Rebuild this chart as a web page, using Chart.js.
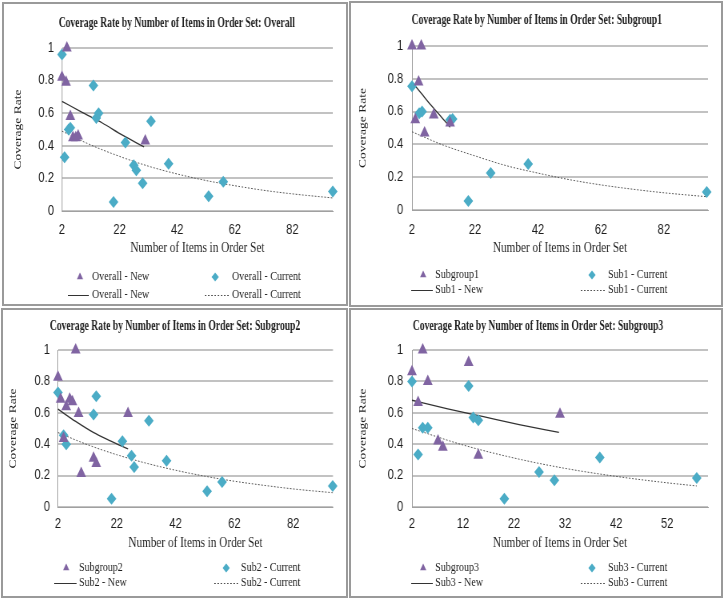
<!DOCTYPE html>
<html>
<head>
<meta charset="utf-8">
<script src="https://cdn.jsdelivr.net/npm/chart.js@4.4.0/dist/chart.umd.min.js"></script>
<style>
  body { margin: 0; background: #fff; }
  #page { position: relative; width: 725px; height: 599px; overflow: hidden; }
  .frame { position: absolute; box-sizing: border-box; border: 2px solid #9a9a9a; }
  canvas { position: absolute; transform-origin: 0 0; transform: scaleX(0.8); }
</style>
</head>
<body>
<div id="page">
  <div class="frame" style="left:2px;top:2px;width:346px;height:304px"></div>
  <div class="frame" style="left:349px;top:1px;width:374px;height:306px"></div>
  <div class="frame" style="left:1px;top:308px;width:347px;height:290px"></div>
  <div class="frame" style="left:349px;top:308px;width:374px;height:290px"></div>
  <canvas id="c1" width="428" height="300" style="left:4px;top:4px"></canvas>
  <canvas id="c2" width="461" height="302" style="left:352px;top:3px"></canvas>
  <canvas id="c3" width="429" height="286" style="left:3px;top:310px"></canvas>
  <canvas id="c4" width="461" height="286" style="left:352px;top:310px"></canvas>
</div>
<script>
// tick labels
const yTicks = [0, 0.2, 0.4, 0.6, 0.8, 1];
const xTicksWide = [2, 22, 42, 62, 82];
const xTicksSub3 = [2, 12, 22, 32, 42, 52];

// Overall
const overallNewX = [2, 3.4, 3.7, 4.9, 5.8, 6.8, 7.6, 30.9];
const overallNewY = [0.82, 0.79, 1.0, 0.58, 0.45, 0.45, 0.46, 0.43];
const overallCurX = [2, 2.9, 4.3, 4.9, 12.9, 13.9, 14.7, 19.9, 24, 26.9, 27.8, 30, 32.9, 39, 52.9, 58, 96];
const overallCurY = [0.96, 0.33, 0.50, 0.51, 0.77, 0.57, 0.60, 0.055, 0.42, 0.28, 0.25, 0.17, 0.55, 0.29, 0.09, 0.18, 0.12];
const overallNewFitX = [2, 9, 16, 23, 30.5];
const overallNewFitY = [0.673, 0.605, 0.54, 0.465, 0.393];
const overallCurFitX = [2, 12, 22, 32, 42, 52, 62, 72, 82, 96];
const overallCurFitY = [0.49, 0.405, 0.335, 0.275, 0.227, 0.187, 0.155, 0.127, 0.105, 0.08];

// Subgroup1
const sub1NewX = [2, 4.95, 4.1, 3.05, 8.9, 6, 14.1];
const sub1NewY = [1.0, 1.0, 0.78, 0.55, 0.58, 0.47, 0.53];
const sub1CurX = [2, 4.3, 5.2, 14.1, 14.9, 19.9, 27, 38.9, 95.6];
const sub1CurY = [0.755, 0.59, 0.60, 0.55, 0.555, 0.055, 0.225, 0.28, 0.11];
const sub1NewFitX = [2, 5, 8, 11, 14.1];
const sub1NewFitY = [0.78, 0.71, 0.64, 0.575, 0.505];
const sub1CurFitX = [2, 12, 22, 32, 42, 52, 62, 72, 82, 95.6];
const sub1CurFitY = [0.477, 0.395, 0.33, 0.27, 0.225, 0.185, 0.153, 0.127, 0.105, 0.081];

// Subgroup2
const sub2NewX = [2, 2.9, 8, 4.8, 6, 6.9, 9, 3.9, 9.9, 14.1, 15, 25.8];
const sub2NewY = [0.826, 0.687, 1.0, 0.638, 0.687, 0.67, 0.596, 0.436, 0.213, 0.31, 0.277, 0.596];
const sub2CurX = [2, 3.9, 4.8, 14.1, 15, 20.2, 23.9, 27, 27.9, 32.9, 38.9, 52.7, 57.8, 95.4];
const sub2CurY = [0.73, 0.457, 0.40, 0.589, 0.706, 0.053, 0.419, 0.326, 0.255, 0.549, 0.294, 0.10, 0.16, 0.134];
const sub2NewFitX = [2, 8, 14, 20, 25.8];
const sub2NewFitY = [0.623, 0.545, 0.475, 0.42, 0.37];
const sub2CurFitX = [2, 12, 22, 32, 42, 52, 62, 72, 82, 95.4];
const sub2CurFitY = [0.474, 0.397, 0.333, 0.279, 0.234, 0.196, 0.164, 0.138, 0.115, 0.091];

// Subgroup3
const sub3NewX = [2, 4.1, 5.1, 3.2, 13.1, 7.1, 8.05, 15, 31];
const sub3NewY = [0.862, 1.0, 0.80, 0.666, 0.92, 0.42, 0.38, 0.33, 0.59];
const sub3CurX = [2, 3.2, 4.1, 5.1, 13.1, 14.0, 15, 20.1, 26.9, 29.9, 38.8, 57.8];
const sub3CurY = [0.80, 0.334, 0.504, 0.504, 0.77, 0.57, 0.553, 0.053, 0.223, 0.17, 0.315, 0.185];
const sub3NewFitX = [2, 9, 16, 23, 30.8];
const sub3NewFitY = [0.68, 0.625, 0.575, 0.525, 0.475];
const sub3CurFitX = [2, 12, 22, 32, 42, 52, 57.8];
const sub3CurFitY = [0.5, 0.395, 0.312, 0.246, 0.195, 0.154, 0.134];

const PURPLE = '#8064A2';
const TEAL = '#4BACC6';
const GRID = '#c2c2c2';
const AXIS = '#a0a0a0';
const TEXT = '#1e1e1e';
const SERIF = '"Liberation Serif", "Times New Roman", serif';
const SANS = '"Liberation Sans Narrow", "Liberation Sans", Arial, sans-serif';

function pts(xs, ys) {
  return xs.map((x, i) => ({ x: x, y: ys[i] }));
}

function drawMarker(ctx, style, x, y, r, color) {
  ctx.fillStyle = color;
  ctx.beginPath();
  if (style === 'triangle') {
    ctx.moveTo(x, y - r);
    ctx.lineTo(x + r * 0.866, y + r / 2);
    ctx.lineTo(x - r * 0.866, y + r / 2);
  } else {
    ctx.moveTo(x, y - r);
    ctx.lineTo(x + r, y);
    ctx.lineTo(x, y + r);
    ctx.lineTo(x - r, y);
  }
  ctx.closePath();
  ctx.fill();
}

// title and the two-column legend under each chart
const panelText = {
  id: 'panelText',
  afterDraw(chart, args, opts) {
    const ctx = chart.ctx;
    const ds = chart.data.datasets;
    ctx.save();
    ctx.fillStyle = TEXT;
    ctx.textBaseline = 'middle';
    ctx.textAlign = 'center';
    // the title is a bit narrower than the rest of the text
    ctx.save();
    ctx.translate(opts.titleX, opts.titleY);
    ctx.scale(0.86, 1);
    ctx.font = 'bold 14px ' + SERIF;
    ctx.fillText(opts.title, 0, 0);
    ctx.restore();

    ctx.font = '12.5px ' + SERIF;
    ctx.textAlign = 'left';
    const [r1, r2] = opts.rows;
    const cols = [opts.col1, opts.col2];
    // markers row
    cols.forEach((c, i) => {
      drawMarker(ctx, ds[i].pointStyle, c.mx, r1, 4.5, ds[i].backgroundColor);
      ctx.fillStyle = TEXT;
      ctx.fillText(ds[i].label, c.tx, r1);
    });
    // lines row
    cols.forEach((c, i) => {
      const d = ds[i + 2];
      ctx.strokeStyle = d.borderColor;
      ctx.lineWidth = 1;
      ctx.setLineDash(d.borderDash || []);
      ctx.beginPath();
      ctx.moveTo(c.lx0, r2 + 0.5);
      ctx.lineTo(c.lx1, r2 + 0.5);
      ctx.stroke();
      ctx.setLineDash([]);
      ctx.fillText(d.label, c.tx, r2);
    });
    ctx.restore();
  }
};

function makePanel(id, p) {
  const canvas = document.getElementById(id);
  const W = canvas.width, H = canvas.height;
  const padL = p.yTitleX - 8.1;
  const xH = p.xTitleOff + 8.4;
  return new Chart(canvas, {
    type: 'scatter',
    data: {
      datasets: [
        { label: p.labels[0], data: pts(p.newX, p.newY), pointStyle: 'triangle', pointRadius: 7,
          backgroundColor: PURPLE, borderColor: PURPLE, borderWidth: 0, clip: false },
        { label: p.labels[1], data: pts(p.curX, p.curY), pointStyle: 'rectRot', pointRadius: 6,
          backgroundColor: TEAL, borderColor: TEAL, borderWidth: 0, clip: false },
        { label: p.labels[2], data: pts(p.newFitX, p.newFitY), showLine: true, pointRadius: 0,
          borderColor: '#333333', borderWidth: 1.3, cubicInterpolationMode: 'monotone', clip: false },
        { label: p.labels[3], data: pts(p.curFitX, p.curFitY), showLine: true, pointRadius: 0,
          borderColor: '#555555', borderWidth: 1, borderDash: [2, 2], cubicInterpolationMode: 'monotone', clip: false }
      ]
    },
    options: {
      responsive: false,
      animation: false,
      events: [],
      layout: { padding: { left: padL, right: W - p.plot.r, top: p.plot.t, bottom: H - p.plot.b - xH } },
      plugins: {
        legend: { display: false },
        tooltip: { enabled: false },
        panelText: { title: p.title, titleX: p.titleX, titleY: p.titleY, rows: p.rows, col1: p.col1, col2: p.col2 }
      },
      scales: {
        x: {
          type: 'linear', min: 2, max: p.xMax,
          afterBuildTicks: s => { s.ticks = p.xTicks.map(v => ({ value: v })); },
          afterFit: s => { s.height = xH; },
          grid: { display: false, drawTicks: false },
          border: { color: AXIS, width: 1 },
          ticks: { padding: p.xTickPad, color: TEXT, font: { family: SANS, size: 14 }, callback: v => String(v) },
          title: { display: true, text: 'Number of Items in Order Set', color: TEXT, padding: 0,
                   font: { family: SERIF, size: 14, lineHeight: 1.2 } }
        },
        y: {
          type: 'linear', min: 0, max: 1,
          afterBuildTicks: s => { s.ticks = yTicks.map(v => ({ value: v })); },
          afterFit: s => { s.width = p.plot.l - padL; },
          grid: { color: GRID, lineWidth: 2, drawTicks: false },
          border: { color: AXIS, width: 1 },
          ticks: { padding: p.yTickPad, color: TEXT, font: { family: SANS, size: 14 }, callback: v => String(v) },
          title: { display: true, text: 'Coverage Rate', color: TEXT, padding: 0,
                   font: { family: SERIF, size: 13.5, lineHeight: 1.2 } }
        }
      }
    },
    plugins: [panelText]
  });
}

makePanel('c1', {
  title: 'Coverage Rate by Number of Items in Order Set: Overall',
  labels: ['Overall - New', 'Overall - Current', 'Overall - New', 'Overall - Current'],
  newX: overallNewX, newY: overallNewY, curX: overallCurX, curY: overallCurY,
  newFitX: overallNewFitX, newFitY: overallNewFitY, curFitX: overallCurFitX, curFitY: overallCurFitY,
  xTicks: xTicksWide, xMax: 96,
  plot: { l: 72.5, r: 411, t: 44, b: 207 },
  yTitleX: 17.5, yTickPad: 10, xTickPad: 10.6, xTitleOff: 37,
  titleX: 216, titleY: 19,
  rows: [273, 291],
  col1: { mx: 95, lx0: 80, lx1: 106, tx: 110 },
  col2: { mx: 264, lx0: 251, lx1: 281, tx: 285 }
});

makePanel('c2', {
  title: 'Coverage Rate by Number of Items in Order Set: Subgroup1',
  labels: ['Subgroup1', 'Sub1 - Current', 'Sub1 - New', 'Sub1 - Current'],
  newX: sub1NewX, newY: sub1NewY, curX: sub1CurX, curY: sub1CurY,
  newFitX: sub1NewFitX, newFitY: sub1NewFitY, curFitX: sub1CurFitX, curFitY: sub1CurFitY,
  xTicks: xTicksWide, xMax: 96,
  plot: { l: 75, r: 445, t: 43, b: 207 },
  yTitleX: 13.75, yTickPad: 11, xTickPad: 11.6, xTitleOff: 38,
  titleX: 231, titleY: 17,
  rows: [272, 287],
  col1: { mx: 89, lx0: 74, lx1: 101, tx: 104 },
  col2: { mx: 300, lx0: 286, lx1: 317, tx: 320 }
});

makePanel('c3', {
  title: 'Coverage Rate by Number of Items in Order Set: Subgroup2',
  labels: ['Subgroup2', 'Sub2 - Current', 'Sub2 - New', 'Sub2 - Current'],
  newX: sub2NewX, newY: sub2NewY, curX: sub2CurX, curY: sub2CurY,
  newFitX: sub2NewFitX, newFitY: sub2NewFitY, curFitX: sub2CurFitX, curFitY: sub2CurFitY,
  xTicks: xTicksWide, xMax: 95.5,
  plot: { l: 68.75, r: 412.5, t: 40, b: 197 },
  yTitleX: 12.5, yTickPad: 10, xTickPad: 8.6, xTitleOff: 36,
  titleX: 215, titleY: 16,
  rows: [258, 273],
  col1: { mx: 79, lx0: 64, lx1: 92, tx: 95 },
  col2: { mx: 279, lx0: 264, lx1: 294, tx: 297.5 }
});

makePanel('c4', {
  title: 'Coverage Rate by Number of Items in Order Set: Subgroup3',
  labels: ['Subgroup3', 'Sub3 - Current', 'Sub3 - New', 'Sub3 - Current'],
  newX: sub3NewX, newY: sub3NewY, curX: sub3CurX, curY: sub3CurY,
  newFitX: sub3NewFitX, newFitY: sub3NewFitY, curFitX: sub3CurFitX, curFitY: sub3CurFitY,
  xTicks: xTicksSub3, xMax: 60,
  plot: { l: 75, r: 445, t: 40, b: 197 },
  yTitleX: 13.75, yTickPad: 11, xTickPad: 8.6, xTitleOff: 36,
  titleX: 232.5, titleY: 16,
  rows: [258, 273],
  col1: { mx: 89, lx0: 74, lx1: 101, tx: 104 },
  col2: { mx: 300, lx0: 286, lx1: 317, tx: 320 }
});
</script>
</body>
</html>
